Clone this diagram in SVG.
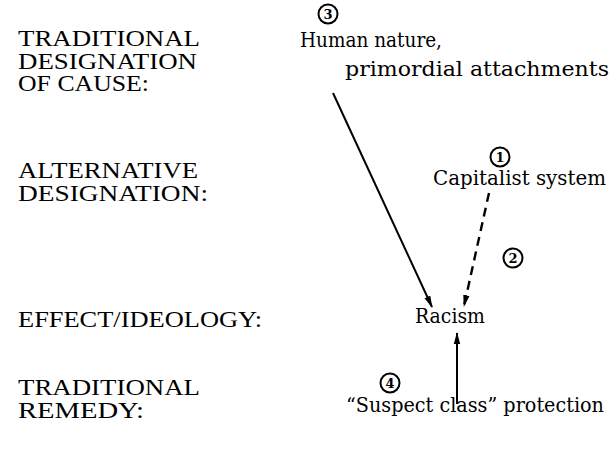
<svg xmlns="http://www.w3.org/2000/svg" width="612" height="449" viewBox="0 0 612 449">
<defs>
<style>
.lab{font-size:24px;font-family:Liberation Serif, serif;fill:#000}
.nd{font-size:20px;font-family:"DejaVu Serif", serif;fill:#000}
.num{font-size:13px;font-weight:bold;text-anchor:middle;font-family:"DejaVu Serif", serif;fill:#000}
.c{fill:none;stroke:#000;stroke-width:2}
.ln{stroke:#000;stroke-width:2;fill:none}
.dash{stroke-width:2.4;stroke-dasharray:9,6}
</style>
<marker id="ah" viewBox="0 0 12 8" refX="11" refY="4" markerWidth="12" markerHeight="8" markerUnits="userSpaceOnUse" orient="auto">
<path d="M0,0.8 L12,4 L0,7.2 Z" fill="#000"/>
</marker>
</defs>
<rect width="612" height="449" fill="#fff"/>
<g id="labels">
<text class="lab" x="18" y="46" textLength="182" lengthAdjust="spacingAndGlyphs">TRADITIONAL</text>
<text class="lab" x="18" y="68.5" textLength="179" lengthAdjust="spacingAndGlyphs">DESIGNATION</text>
<text class="lab" x="18" y="91" textLength="131" lengthAdjust="spacingAndGlyphs">OF CAUSE:</text>
<text class="lab" x="18" y="178" textLength="180" lengthAdjust="spacingAndGlyphs">ALTERNATIVE</text>
<text class="lab" x="18" y="200.5" textLength="190" lengthAdjust="spacingAndGlyphs">DESIGNATION:</text>
<text class="lab" x="18" y="327" textLength="244" lengthAdjust="spacingAndGlyphs">EFFECT/IDEOLOGY:</text>
<text class="lab" x="18" y="395" textLength="182" lengthAdjust="spacingAndGlyphs">TRADITIONAL</text>
<text class="lab" x="18" y="417.5" textLength="126" lengthAdjust="spacingAndGlyphs">REMEDY:</text>
</g>
<g id="node-human">
<circle class="c" cx="328" cy="14" r="9.5"/>
<text class="num" x="328" y="18.5">3</text>
<text class="nd" x="300" y="47" textLength="142" lengthAdjust="spacingAndGlyphs">Human nature,</text>
<text class="nd" x="345" y="76" textLength="264" lengthAdjust="spacingAndGlyphs">primordial attachments</text>
</g>
<g id="node-capitalist">
<circle class="c" cx="500" cy="157" r="9.5"/>
<text class="num" x="500" y="161.5">1</text>
<text class="nd" x="433" y="185" textLength="173" lengthAdjust="spacingAndGlyphs">Capitalist system</text>
</g>
<g id="node-racism">
<circle class="c" cx="513" cy="258" r="9.5"/>
<text class="num" x="513" y="262.5">2</text>
<text class="nd" x="415" y="323" textLength="70" lengthAdjust="spacingAndGlyphs">Racism</text>
</g>
<g id="node-suspect">
<circle class="c" cx="390" cy="383" r="9.5"/>
<text class="num" x="390" y="387.5">4</text>
<text class="nd" x="346" y="412" textLength="258" lengthAdjust="spacingAndGlyphs">“Suspect class” protection</text>
</g>
<g id="connectors">
<line class="ln" x1="333" y1="93" x2="432" y2="307" marker-end="url(#ah)"/>
<line class="ln dash" x1="489" y1="193" x2="464" y2="306" marker-end="url(#ah)"/>
<line class="ln" x1="457" y1="404" x2="457" y2="333" marker-end="url(#ah)"/>
</g>
</svg>
